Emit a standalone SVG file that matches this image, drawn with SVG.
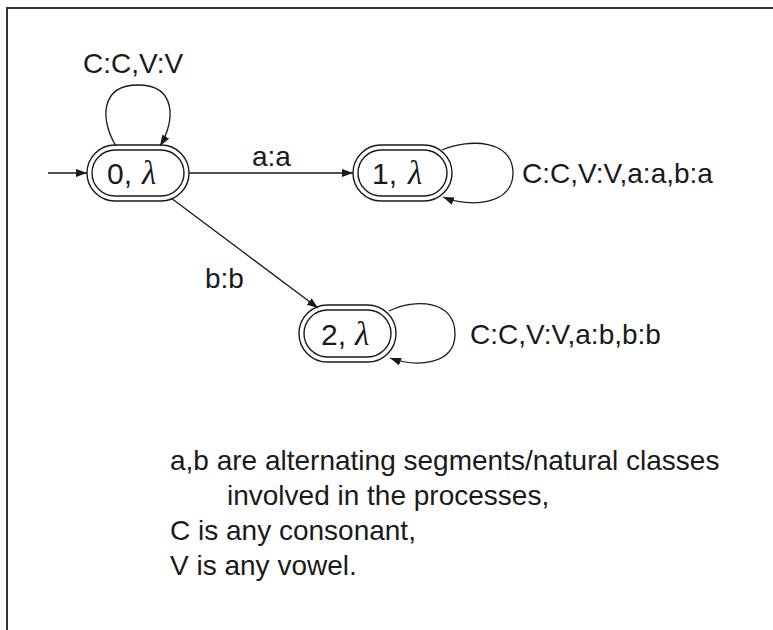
<svg xmlns="http://www.w3.org/2000/svg" width="773" height="630" viewBox="0 0 773 630">
<defs>
<style>
.t{font-family:"Liberation Sans",Arial,sans-serif;font-size:28px;fill:#1a1a1a}
.d{font-family:"Liberation Sans",Arial,sans-serif;font-size:30px;fill:#1a1a1a}
.l{font-family:"Liberation Serif","Times New Roman",serif;font-style:italic;font-size:33px;fill:#1a1a1a}
.n{fill:none;stroke:#1a1a1a;stroke-width:1.4}
.e{fill:none;stroke:#1a1a1a;stroke-width:1.3;marker-end:url(#ah)}
</style>
<marker id="ah" markerUnits="userSpaceOnUse" markerWidth="12" markerHeight="8" refX="11" refY="4" orient="auto">
<path d="M0,0 L11,4 L0,8 Z" fill="#1a1a1a"/>
</marker>
</defs>
<rect width="773" height="630" fill="#fff"/>
<path d="M7,630 V8 H773" fill="none" stroke="#333" stroke-width="2"/>

<g id="node0">
<rect class="n" x="87" y="145" width="102" height="56" rx="28"/>
<rect class="n" x="92" y="150" width="92" height="46" rx="23"/>
<text class="d" x="107" y="184">0,</text>
<text class="l" x="142" y="184">λ</text>
</g>
<g id="node1">
<rect class="n" x="353" y="145" width="99" height="56" rx="28"/>
<rect class="n" x="358" y="150" width="89" height="46" rx="23"/>
<text class="d" x="372" y="184">1,</text>
<text class="l" x="408" y="184">λ</text>
</g>
<g id="node2">
<rect class="n" x="299" y="305" width="97" height="57" rx="28.5"/>
<rect class="n" x="304" y="310" width="87" height="47" rx="23.5"/>
<text class="d" x="321" y="345">2,</text>
<text class="l" x="355" y="345">λ</text>
</g>

<g id="edges">
<path class="e" d="M48,173 L87,173"/>
<path class="e" d="M116,146 C100,120 100,85 138,85 C176,85 176,120 160,146"/>
<path class="e" d="M189,173 L353,173"/>
<path class="e" d="M171,198 L318,308"/>
<path class="e" d="M442,150 C470,138 513,140 513,173 C513,205 470,208 443,197"/>
<path class="e" d="M389,311 C415,298 455,300 455,334 C455,366 415,367 390,358"/>
</g>

<g id="labels">
<text class="t" x="83" y="73">C:C,V:V</text>
<text class="t" x="252" y="166">a:a</text>
<text class="t" x="522" y="183">C:C,V:V,a:a,b:a</text>
<text class="t" x="205" y="288">b:b</text>
<text class="t" x="470" y="344">C:C,V:V,a:b,b:b</text>
</g>

<g id="legend">
<text class="t" x="170" y="470">a,b are alternating segments/natural classes</text>
<text class="t" x="227" y="505">involved in the processes,</text>
<text class="t" x="170" y="540">C is any consonant,</text>
<text class="t" x="170" y="575">V is any vowel.</text>
</g>
</svg>
